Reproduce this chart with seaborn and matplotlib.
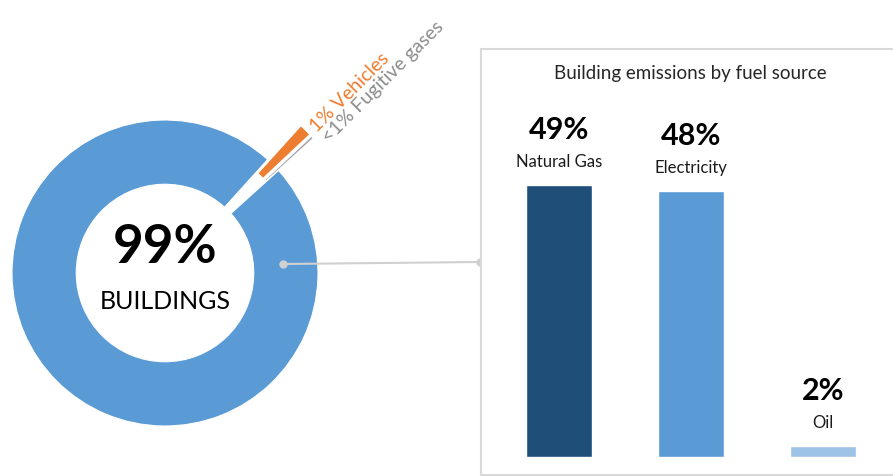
import matplotlib
matplotlib.use("Agg")
import matplotlib.pyplot as plt
import seaborn as sns

# Sector shares (donut)
sectors = ["Fugitive gases", "Vehicles", "Buildings"]
sector_shares = [0.3, 1.3, 98.4]
sector_labels = ["<1%", "1%", "99%"]
sector_colors = ["#a5a5a5", "#ed7d31", "#5b9bd5"]

# Building emissions by fuel source (bars)
fuels = ["Natural Gas", "Electricity", "Oil"]
fuel_shares = [49, 48, 2]
fuel_colors = ["#1f4e79", "#5b9bd5", "#9dc3e6"]

sns.set_style("white")
plt.rcParams["font.family"] = ["Lato", "DejaVu Sans"]

W, H = 893, 477
fig = plt.figure(figsize=(W / 100, H / 100), dpi=100)

# ---- donut (left) ----
cx, cy, R = 165, 274, 153  # pixel centre / radius
ax_d = fig.add_axes([0, 0, 480 / W, 1])
ax_d.pie(sector_shares, colors=sector_colors, startangle=42.1, counterclock=True,
         explode=[0.31, 0.31, 0], radius=1,
         wedgeprops=dict(width=0.42, edgecolor="white", linewidth=0.8))
ax_d.set_aspect("auto")
ax_d.set_xlim(-cx / R, (480 - cx) / R)
ax_d.set_ylim(-(H - cy) / R, cy / R)
ax_d.axis("off")

ax_d.text(0, 0.17, sector_labels[2], ha="center", va="center", fontsize=38,
          fontweight="bold", color="black")
ax_d.text(0, -0.18, "BUILDINGS", ha="center", va="center", fontsize=18, color="black")
ax_d.text(0.965, 0.95, f"{sector_labels[1]} {sectors[1]}", rotation=45, rotation_mode="anchor",
          ha="left", va="center", fontsize=14, color=sector_colors[1])
ax_d.text(1.045, 0.875, f"{sector_labels[0]} {sectors[0]}", rotation=45, rotation_mode="anchor",
          ha="left", va="center", fontsize=14, color="#8c8c8c")

# connector
ax_d.plot([(283 - cx) / R, (480 - cx) / R], [(cy - 265) / R, (cy - 263) / R],
          color="#d0d0d0", lw=1.5, marker="o", ms=5, clip_on=False, zorder=5)

# ---- bars (right) ----
ax_b = fig.add_axes([481 / W, 1 / H, (900 - 481) / W, (476 - 50) / H])
sns.barplot(x=fuels, y=fuel_shares, hue=fuels, palette=fuel_colors, width=0.5,
            legend=False, ax=ax_b, saturation=1)
px_per_unit = 132
px_per_pct = 5.55
ax_b.set_xlim((481 - 559) / px_per_unit, (900 - 559) / px_per_unit)
ax_b.set_ylim(-(476 - 458) / px_per_pct, (458 - 50) / px_per_pct)
ax_b.set_xticks([])
ax_b.set_yticks([])
ax_b.set_xlabel("")
ax_b.set_ylabel("")
for s in ax_b.spines.values():
    s.set_color("#d9d9d9")
    s.set_linewidth(1.5)

for i, (name, v) in enumerate(zip(fuels, fuel_shares)):
    ax_b.annotate(f"{v}%", (i, v), xytext=(0, 40), textcoords="offset points",
                  ha="center", va="center", fontsize=22, fontweight="bold", color="black")
    ax_b.annotate(name, (i, v), xytext=(0, 17), textcoords="offset points",
                  ha="center", va="center", fontsize=12, color="#1a1a1a")

ax_b.text((690 - 481) / (900 - 481), (476 - 74) / (476 - 50), "Building emissions by fuel source",
          transform=ax_b.transAxes, ha="center", va="center", fontsize=13.5, color="#262626")

fig.savefig("out.png", dpi=100)
